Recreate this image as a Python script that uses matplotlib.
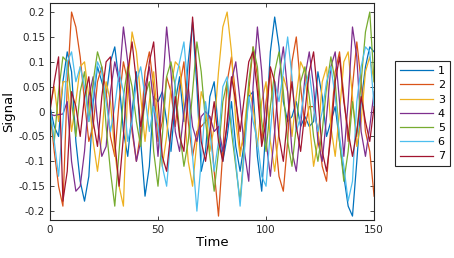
import numpy as np
import matplotlib
matplotlib.use("Agg")
import matplotlib.pyplot as plt

# signals sampled every 2 time units (t = 0, 2, ..., 150)
time = np.arange(0, 151, 2)

sig1 = [0.01, -0.03, -0.05, 0.06, 0.12, 0.08, -0.06, -0.14, -0.18, -0.13,
        0.02, 0.09, 0.06, 0.03, 0.10, 0.13, 0.06, -0.04, -0.09, 0.00,
        0.08, -0.06, -0.17, -0.11, 0.03, 0.02, 0.04, -0.02, -0.08, 0.02,
        0.07, -0.02, 0.10, 0.18, 0.05, -0.12, -0.08, 0.03, 0.06, -0.04,
        -0.10, -0.05, 0.02, -0.07, -0.12, -0.06, 0.03, 0.04, -0.09, -0.16,
        -0.03, 0.12, 0.19, 0.13, 0.02, -0.02, -0.01, 0.02, -0.03, -0.01,
        -0.03, -0.02, 0.08, 0.03, -0.05, -0.02, 0.01, -0.06, -0.13, -0.19,
        -0.21, -0.10, 0.02, 0.09, 0.13, 0.12]
sig2 = [0.00, -0.08, -0.15, -0.19, 0.05, 0.20, 0.17, 0.11, 0.02, -0.06,
        -0.03, 0.06, 0.09, 0.04, -0.05, -0.09, 0.02, 0.10, 0.06, -0.04,
        -0.10, -0.04, 0.08, 0.12, 0.05, -0.06, -0.02, 0.07, 0.04, -0.03,
        0.05, 0.10, -0.02, -0.09, -0.04, -0.03, -0.02, -0.01, -0.12, -0.21,
        -0.08, 0.06, 0.11, 0.03, -0.08, -0.05, 0.04, 0.13, 0.07, -0.06,
        0.02, 0.08, -0.04, -0.13, -0.16, -0.06, 0.10, 0.15, 0.05, -0.03,
        0.01, 0.01, -0.04, -0.11, -0.14, -0.03, 0.08, 0.12, 0.03, -0.06,
        0.05, 0.14, 0.06, -0.04, -0.08, -0.17]
sig3 = [0.01, 0.05, -0.02, 0.06, 0.06, -0.04, 0.02, 0.09, 0.10, 0.03,
        -0.06, -0.12, -0.05, 0.06, 0.02, -0.08, -0.15, -0.19, 0.05, 0.16,
        0.12, 0.03, -0.06, 0.02, 0.08, -0.02, -0.11, -0.05, 0.05, 0.10,
        0.09, 0.01, -0.10, -0.15, -0.06, 0.04, 0.01, -0.08, -0.03, 0.08,
        0.17, 0.20, 0.12, -0.02, -0.09, -0.03, 0.05, 0.01, -0.07, 0.02,
        0.06, -0.06, -0.12, -0.04, 0.07, 0.04, -0.05, 0.03, 0.10, 0.08,
        -0.02, -0.11, -0.06, 0.06, 0.09, -0.03, -0.09, 0.00, 0.10, 0.12,
        0.03, -0.07, -0.02, 0.08, 0.11, 0.06]
sig4 = [-0.005, -0.008, -0.006, -0.005, 0.02, -0.10, -0.16, -0.15, -0.08, 0.03,
        0.07, -0.02, -0.09, -0.07, 0.04, 0.10, 0.06, 0.17, 0.10, -0.03,
        -0.10, -0.06, 0.05, 0.09, 0.02, -0.09, 0.04, 0.17, 0.08, -0.04,
        -0.08, 0.00, 0.05, -0.03, -0.06, -0.01, 0.00, -0.01, -0.04, -0.03,
        -0.08, -0.03, 0.06, 0.10, 0.02, -0.08, -0.14, 0.05, 0.17, 0.08,
        -0.06, -0.13, -0.04, 0.07, 0.13, 0.04, -0.08, -0.12, -0.03, 0.07,
        0.12, 0.05, -0.06, -0.10, -0.01, 0.09, 0.12, 0.02, -0.09, 0.02,
        0.17, 0.11, -0.04, -0.09, -0.03, 0.04]
sig5 = [0.00, -0.06, 0.04, 0.11, 0.10, 0.02, -0.05, 0.04, 0.08, -0.02,
        0.06, 0.12, 0.09, -0.03, -0.12, -0.19, -0.08, 0.03, 0.09, 0.05,
        -0.02, -0.07, 0.03, 0.06, -0.08, -0.15, -0.05, 0.07, 0.10, 0.05,
        -0.04, -0.11, -0.06, 0.04, 0.14, 0.08, -0.02, -0.09, -0.16, -0.08,
        0.02, 0.06, -0.04, -0.11, -0.18, -0.07, 0.06, 0.13, 0.09, -0.02,
        -0.08, 0.01, 0.08, 0.12, 0.04, -0.06, -0.11, -0.03, 0.06, 0.09,
        0.03, -0.05, -0.10, -0.04, 0.05, 0.11, 0.06, -0.06, -0.14, -0.08,
        0.02, -0.05, 0.06, 0.16, 0.20, 0.06]
sig6 = [0.01, -0.06, -0.13, -0.02, 0.10, 0.12, 0.06, 0.09, 0.05, -0.02,
        0.03, 0.10, 0.08, 0.02, -0.04, 0.01, 0.08, 0.04, -0.06, -0.02,
        0.06, 0.09, 0.03, -0.04, 0.01, -0.03, -0.11, -0.15, -0.05, 0.06,
        0.10, 0.14, 0.04, -0.09, -0.20, -0.10, 0.02, -0.04, -0.12, -0.06,
        0.05, 0.07, -0.02, -0.10, -0.19, -0.08, 0.03, -0.02, -0.06, -0.13,
        -0.15, -0.04, 0.06, 0.02, 0.08, 0.15, 0.07, -0.04, -0.01, 0.05,
        0.08, 0.01, -0.04, 0.00, 0.06, 0.09, 0.03, -0.05, -0.11, -0.18,
        -0.14, 0.02, 0.09, 0.13, 0.12, 0.01]
sig7 = [0.00, 0.06, 0.11, -0.18, -0.12, 0.04, 0.01, -0.05, 0.03, 0.07,
        -0.02, -0.07, 0.03, 0.10, 0.11, -0.06, -0.15, -0.05, 0.08, 0.14,
        0.06, -0.03, 0.02, 0.10, 0.14, 0.02, -0.09, -0.12, -0.04, 0.03,
        -0.05, -0.08, 0.04, 0.19, 0.08, -0.06, -0.10, -0.04, 0.02, -0.06,
        -0.10, -0.02, 0.07, 0.02, -0.04, 0.03, 0.10, 0.12, 0.04, -0.07,
        -0.02, 0.09, 0.06, -0.05, -0.10, -0.01, 0.06, -0.03, -0.08, 0.00,
        0.08, 0.12, 0.03, -0.08, -0.12, -0.05, 0.06, 0.11, 0.02, -0.04,
        -0.09, -0.04, 0.03, -0.02, -0.06, 0.01]

signals = [sig1, sig2, sig3, sig4, sig5, sig6, sig7]
labels = ['1', '2', '3', '4', '5', '6', '7']
colors = ['#0072BD', '#D95319', '#EDB120', '#7E2F8E', '#77AC30', '#4DBEEE', '#A2142F']

plt.rcParams['font.family'] = 'DejaVu Sans'

fig = plt.figure(figsize=(4.54, 2.58), dpi=100)
ax = fig.add_axes([0.110, 0.147, 0.714, 0.841])

for s, lab, c in zip(signals, labels, colors):
    ax.plot(time, s, color=c, linewidth=0.9, label=lab)

ax.set_xlim(0, 150)
ax.set_ylim(-0.218, 0.218)
ax.set_xticks([0, 50, 100, 150])
ax.set_yticks([-0.2, -0.15, -0.1, -0.05, 0, 0.05, 0.1, 0.15, 0.2])
ax.set_yticklabels(['-0.2', '-0.15', '-0.1', '-0.05', '0', '0.05', '0.1', '0.15', '0.2'])
ax.tick_params(direction='in', length=3, width=0.6, labelsize=7.5,
               top=True, right=True, colors='#262626')
for sp in ax.spines.values():
    sp.set_color('#262626')
    sp.set_linewidth(0.8)

ax.set_xlabel('Time', fontsize=9.5, labelpad=1)
ax.set_ylabel('Signal', fontsize=9.5, labelpad=2)

leg = ax.legend(loc='center left', bbox_to_anchor=(1.066, 0.49), borderaxespad=0,
                fontsize=8, handlelength=2.9, labelspacing=0.38, borderpad=0.45,
                fancybox=False, framealpha=1, edgecolor='#262626', handletextpad=0.45)
leg.get_frame().set_linewidth(0.8)

fig.savefig('out.png', dpi=100)
